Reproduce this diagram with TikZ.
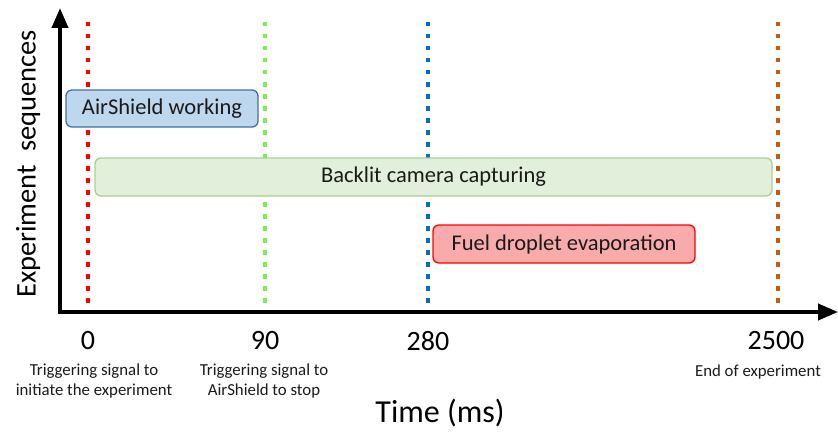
\documentclass[tikz,border=0pt]{standalone}
\usepackage{fontspec}
\setmainfont{Carlito}
\usetikzlibrary{arrows.meta}
\definecolor{cred}{HTML}{FF0000}
\definecolor{cgreen}{HTML}{7CF04A}
\definecolor{cblue}{HTML}{0070C0}
\definecolor{cbrown}{HTML}{C55A11}
\definecolor{bluefill}{HTML}{BDD7EE}
\definecolor{blueedge}{HTML}{41719C}
\definecolor{greenfill}{HTML}{E2EFDA}
\definecolor{greenedge}{HTML}{A9D18E}
\definecolor{redfill}{HTML}{F9ABAB}
\definecolor{txt}{HTML}{1A1A1A}
\tikzset{
  axis/.style={line width=4pt, -{Triangle[width=16pt,length=20pt]}},
  marker/.style={line width=4.5pt, dash pattern=on 4.5pt off 7.5pt},
  phase/.style={rounded corners=6pt, line width=1.3pt, inner sep=0pt, font=\fontsize{22.5}{27}\selectfont, text=txt},
  tick/.style={font=\fontsize{28}{32}\selectfont},
  note/.style={font=\fontsize{16.8}{20.5}\selectfont, align=center, text=txt},
}
\begin{document}
\begin{tikzpicture}[x=1pt,y=-1pt]
\useasboundingbox (0,0) rectangle (838,436);
% dotted markers
\draw[marker, cred]   (88,22) coordinate (r1) -- (88,306) coordinate (r2);
\draw[marker, cgreen] (265,22) coordinate (g1) -- (265,306) coordinate (g2);
\draw[marker, cblue]  (428,22) coordinate (b1) -- (428,306) coordinate (b2);
\draw[marker, cbrown] (778,22) coordinate (o1) -- (778,306) coordinate (o2);
% axes
\coordinate (origin) at (60,312);
\coordinate (ytip) at (60,8);
\coordinate (xtip) at (838,312);
\draw[axis] (origin) -- (ytip);
\draw[axis] ([xshift=-2pt]origin) -- (xtip);
% phases
\node[phase, draw=blueedge, fill=bluefill, minimum width=192pt, minimum height=37pt] (air) at (162,108.5) {AirShield working};
\node[phase, draw=greenedge, fill=greenfill, minimum width=677pt, minimum height=38pt] (cam) at (433.5,177) {Backlit camera capturing};
\node[phase, draw=cred, fill=redfill, minimum width=262pt, minimum height=38pt] (fuel) at (564,244) {Fuel droplet evaporation};
% ticks
\node[tick] (t0) at (88,341) {0};
\node[tick] (t90) at (265,341) {90};
\node[tick] (t280) at (428,341) {280};
\node[tick] (t2500) at (776,341) {2500};
% notes
\node[note] (n0) at (94,381) {Triggering signal to\\initiate the experiment};
\node[note] (n90) at (264,381) {Triggering signal to\\AirShield to stop};
\node[note] (n2500) at (758,372) {End of experiment};
% axis titles
\node[font=\fontsize{32}{36}\selectfont] (xt) at (440,413) {Time (ms)};
\node[font=\fontsize{28.5}{32}\selectfont, rotate=90] (yt) at (28,164) {Experiment\ \ sequences};
\end{tikzpicture}
\end{document}
